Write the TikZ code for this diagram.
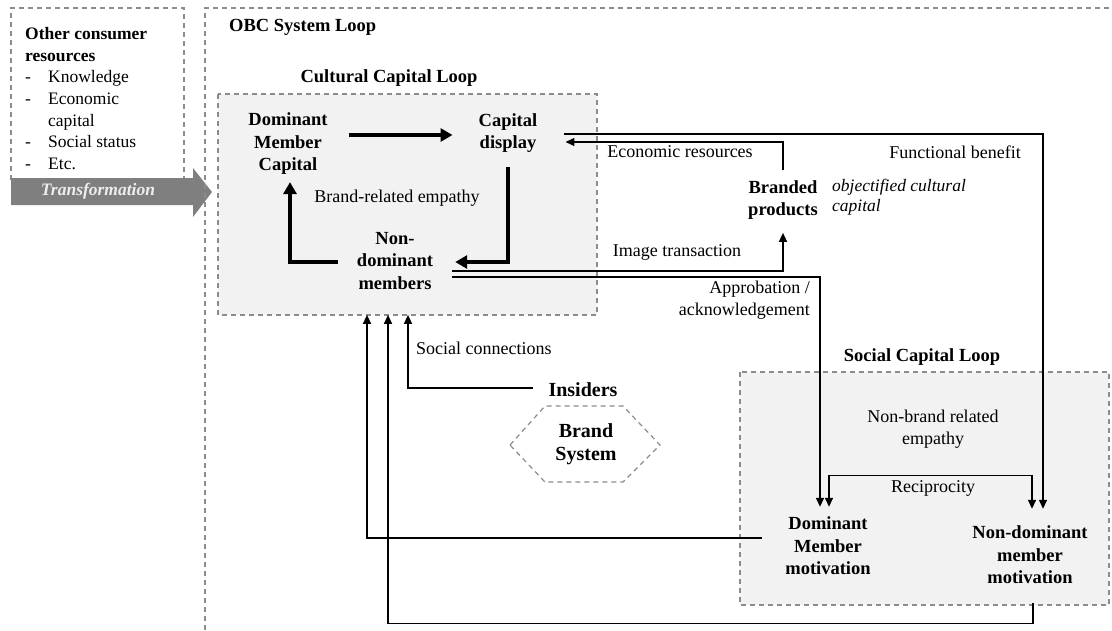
\documentclass[tikz,border=0pt]{standalone}
\usepackage{fontspec}
\setmainfont{Liberation Serif}
\usetikzlibrary{calc,arrows.meta}
\definecolor{boxfill}{HTML}{F2F2F2}
\definecolor{dashgray}{HTML}{8C8C8C}
\definecolor{arrgray}{HTML}{7F7F7F}
\begin{document}
\begin{tikzpicture}[x=1pt,y=-1pt,
  lbl/.style={font=\fontsize{18}{21.5}\selectfont, inner sep=1pt},
  bnode/.style={font=\fontsize{18.5}{22.5}\selectfont\bfseries, align=center, inner sep=2pt},
  bignode/.style={font=\fontsize{20}{23}\selectfont\bfseries, align=center, inner sep=2pt},
  thinarr/.style={line width=1.4pt, -{Triangle[length=9pt,width=8pt]}},
  thinboth/.style={line width=1.4pt, {Triangle[length=9pt,width=8pt]}-{Triangle[length=9pt,width=8pt]}},
  thickarr/.style={line width=4pt, -{Triangle[length=12pt,width=13pt]}},
  dashbox/.style={draw=dashgray, dash pattern=on 5pt off 4pt, line width=1.2pt},
]
\useasboundingbox (0,0) rectangle (1112,630);

% left resources box
\draw[dashbox] (11,180) -- (11,8) -- (184,8) -- (184,180);
\fill[arrgray] (11,178) -- (193,178) -- (193,168) -- (212,192) -- (193,217) -- (193,205) -- (11,205) -- cycle;
\node[font=\fontsize{17.5}{20}\selectfont\bfseries\itshape, text=white!93!black] (tr) at (98,191) {Transformation};
\node[anchor=north west, align=left, font=\fontsize{17.5}{21.7}\selectfont, inner sep=0pt] (ocr) at (25,27)
  {\textbf{Other consumer}\\\textbf{resources}\\\makebox[23pt][l]{-}Knowledge\\\makebox[23pt][l]{-}Economic\\\hspace*{23pt}capital\\\makebox[23pt][l]{-}Social status\\\makebox[23pt][l]{-}Etc.};

% OBC system loop
\draw[dashbox] (205,630) -- (205,8) -- (1112,8);
\node[bnode, anchor=west] (obc) at (227,27) {OBC System Loop};

% cultural capital loop
\draw[dashbox, fill=boxfill] (218,94) rectangle (597,315);
\node[bnode] (cct) at (389,78) {Cultural Capital Loop};
\node[bnode] (dmc) at (288,144) {Dominant\\Member\\Capital};
\node[bnode] (cd) at (508,133) {Capital\\display};
\node[bnode] (ndm) at (395,261) {Non-\\dominant\\members};
\node[lbl] (bre) at (397,198) {Brand-related empathy};

% social capital loop
\draw[dashbox, fill=boxfill] (740,372) rectangle (1109,605);
\node[bnode] (sct) at (922,357) {Social Capital Loop};
\node[lbl, align=center] (nbre) at (933,429) {Non-brand related\\empathy};
\node[lbl] (rec) at (933,488) {Reciprocity};
\node[bnode] (dmm) at (828,546) {Dominant\\Member\\motivation};
\node[bnode] (nmm) at (1030,555) {Non-dominant\\member\\motivation};

% other nodes
\node[bnode] (bp) at (783,200) {Branded\\products};
\node[anchor=west, align=left, font=\fontsize{17.5}{20}\selectfont\itshape, inner sep=0pt] (oc) at (832,197) {objectified cultural\\capital};
\node[bignode] (ins) at (583,390) {Insiders};
\node[bignode] (bs) at (586,444) {Brand\\System};
\draw[dashbox] ($(bs)+(-76,1)$) -- ($(bs)+(-41,-38)$) -- ($(bs)+(37,-38)$) -- ($(bs)+(74,1)$) -- ($(bs)+(37,38)$) -- ($(bs)+(-41,38)$) -- cycle;

% labels
\node[lbl] (er) at (680,152) {Economic resources};
\node[lbl] (fb) at (955,152) {Functional benefit};
\node[lbl] (it) at (677,252) {Image transaction};
\node[lbl, align=right, anchor=east] (ap) at (811,300) {Approbation /\\acknowledgement};
\node[lbl, anchor=west] (sc) at (415,348) {Social connections};

% thick loop arrows
\draw[thickarr] ($(dmc.east |- cd.center)+(19,2)$) -- ($(cd.west)+(-24,2)$);
\draw[thickarr] ($(cd.south)+(0,12)$) |- ($(ndm.east)+(20,1)$);
\draw[thickarr] ($(ndm.west)+(-17,1)$) -| ($(dmc.south)+(2,5)$);

% thin connectors
\draw[thinarr] ($(ndm.east)+(17,10)$) -| ($(bp.south)+(0,11)$);
\draw[thinarr] ($(ndm.east)+(17,16)$) -| ($(dmm.north)+(-8,-8)$);
\draw[thinarr] ($(bp.north)+(0,-8)$) |- ($(cd.east)+(26,9)$);
\draw[thinarr] ($(cd.east)+(25,1)$) -| ($(nmm.north)+(13,-15)$);
\draw[thinboth] ($(dmm.north)+(1,-8)$) -- ($(dmm.north)+(1,-39)$) -| ($(nmm.north)+(2,-15)$);
\draw[thinarr] ($(dmm.west)+(-21,-8)$) -| ($(ndm.south)+(-28,23)$);
\draw[thinarr] ($(nmm.south)+(3,17)$) -- ($(nmm.south)+(3,37)$) -| ($(ndm.south)+(-7,23)$);
\draw[thinarr] ($(ins.west)+(-13,-2)$) -| ($(ndm.south)+(13,23)$);
\end{tikzpicture}
\end{document}
